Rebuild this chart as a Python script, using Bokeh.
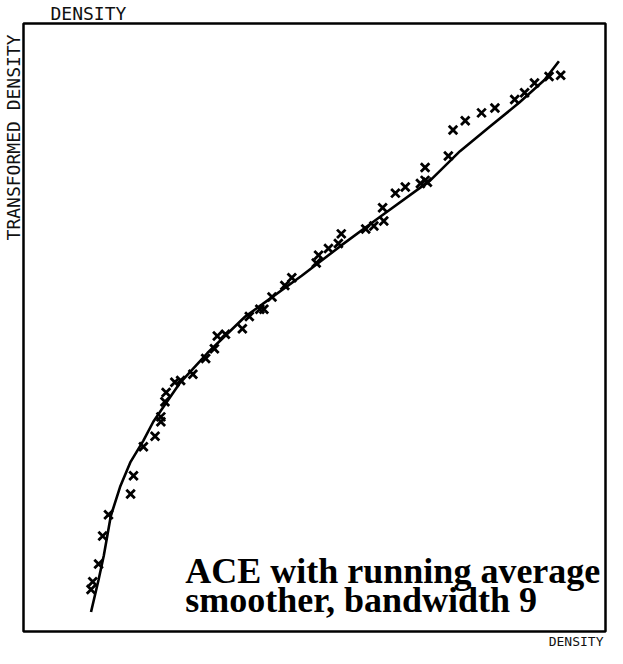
from bokeh.plotting import figure
from bokeh.models import Range1d, Label, Title
from bokeh.embed import file_html
from bokeh.resources import INLINE

# Observed (density, transformed density) pairs, arbitrary 0-100 scale
obs_x = [11.6, 11.9, 12.9, 13.6, 14.6, 18.4, 18.9, 20.6, 22.6, 23.6, 23.6, 24.3,
         24.5, 26.0, 27.0, 29.1, 31.3, 32.8, 33.3, 34.7, 37.6, 38.8, 40.6, 41.3,
         42.7, 44.9, 46.1, 50.3, 50.7, 52.4, 54.1, 54.6, 58.8, 60.2, 61.9, 61.7,
         63.9, 65.6, 68.2, 69.0, 69.4, 69.0, 73.0, 73.8, 75.9, 78.7, 81.0, 84.4,
         86.1, 87.8, 90.3, 92.3]
obs_y = [6.9, 8.2, 11.1, 15.7, 19.2, 22.6, 25.6, 30.4, 32.1, 34.5, 35.3, 37.8,
         39.3, 41.0, 41.3, 42.3, 44.9, 46.5, 48.6, 48.9, 49.8, 51.8, 53.0, 53.0,
         55.0, 56.9, 58.2, 60.6, 61.9, 63.0, 63.8, 65.4, 66.2, 66.7, 67.5, 69.7,
         72.1, 73.1, 73.7, 74.2, 73.9, 76.3, 78.2, 82.5, 84.0, 85.3, 86.1, 87.5,
         88.6, 90.2, 91.3, 91.5]

# ACE transformation curve
fit_x = [11.6, 12.9, 13.8, 15.0, 16.6, 18.4, 20.6, 22.3, 24.0, 26.9, 31.6,
         38.1, 41.0, 47.8, 54.6, 61.4, 69.9, 75.0, 80.1, 85.2, 89.5, 92.0]
fit_y = [3.2, 8.5, 12.5, 19.0, 23.8, 27.9, 31.4, 34.5, 36.9, 40.9, 45.8,
         51.8, 53.8, 58.5, 63.5, 68.3, 74.2, 79.0, 83.0, 87.0, 90.7, 93.8]

x_label = "DENSITY"
y_label = "TRANSFORMED DENSITY"

p = figure(width=607, height=648, output_backend="svg", toolbar_location=None,
           x_range=Range1d(0, 100), y_range=Range1d(0, 100),
           x_axis_location=None, y_axis_location=None,
           min_border_left=0, min_border_right=2, min_border_top=0, min_border_bottom=0)
p.grid.visible = False
p.outline_line_color = "black"
p.outline_line_width = 2.5
p.background_fill_color = "white"
p.border_fill_color = "white"

mono = "DejaVu Sans Mono"
p.title = Title(text=x_label, align="left", offset=27, standoff=0, text_font=mono,
                text_font_size="18px", text_font_style="normal", text_color="#111111")
p.add_layout(Title(text=y_label, align="right", offset=11, standoff=0, text_font=mono,
                   text_font_size="18px", text_font_style="normal", text_color="#111111"), "left")
p.add_layout(Title(text=x_label, align="right", offset=2, standoff=0, text_font=mono,
                   text_font_size="13px", text_font_style="normal", text_color="#111111"), "below")

p.line(fit_x, fit_y, line_color="black", line_width=2.6)
p.scatter(obs_x, obs_y, marker="x", size=12, line_color="black", line_width=2.8)

p.add_layout(Label(x=27.8, y=10.0, text="ACE with running average",
                   text_font="Liberation Serif", text_font_style="bold",
                   text_font_size="36px", text_baseline="alphabetic", text_color="black"))
p.add_layout(Label(x=27.8, y=5.2, text="smoother, bandwidth 9",
                   text_font="Liberation Serif", text_font_style="bold",
                   text_font_size="36px", text_baseline="alphabetic", text_color="black"))

open("out.html", "w").write(file_html(p, INLINE))
